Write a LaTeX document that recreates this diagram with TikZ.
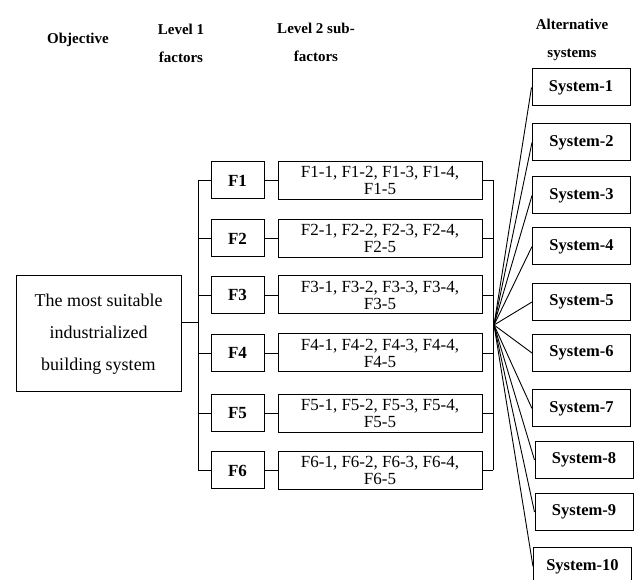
\documentclass[tikz,border=0pt]{standalone}
\usepackage{fontspec}
\setmainfont{Liberation Serif}
\begin{document}
\begin{tikzpicture}[x=1pt,y=-1pt]
        \tikzstyle{box}=[draw,line width=1pt,rectangle,inner sep=0pt,align=center]
        \tikzstyle{head}=[font=\fontsize{15}{28}\selectfont\bfseries,align=center]
        \tikzstyle{fbox}=[box,minimum width=53pt,minimum height=37pt,font=\fontsize{17}{17}\selectfont\bfseries]
        \tikzstyle{subbox}=[box,minimum width=204pt,minimum height=38pt,font=\fontsize{17}{17}\selectfont]
        \tikzstyle{sysbox}=[box,minimum width=98pt,minimum height=37pt,font=\fontsize{16.5}{17}\selectfont\bfseries]
        \tikzstyle{link}=[line width=0.9pt]
        \useasboundingbox (0,0) rectangle (641,580);
        % column titles
        \node[head] (hobj) at (78,40) {Objective};
        \node[head] (hlev1) at (181,43) {Level 1\\factors};
        \node[head] (hlev2) at (316,42) {Level 2 sub-\\factors};
        \node[head] (halt) at (572,40) {Alternative\\systems};
        % objective
        \node[box,minimum width=165pt,minimum height=116pt,font=\fontsize{18}{32}\selectfont] (obj) at (98.5,334)
            {The most suitable\\industrialized\\building system};
        \coordinate (trunk) at (198,322);
        \coordinate (rail) at (493,322);
        \coordinate (fan) at (494,325);
        % factors and sub-factors
        \foreach \i/\y in {1/180.5,2/238.5,3/295,4/353,5/413.5,6/470.5} {
            \node[fbox] (f\i) at (237.5,\y) {F\i};
            \node[subbox] (s\i) at (380,\y) {F\i-1, F\i-2, F\i-3, F\i-4,\\F\i-5};
            \draw[link] (f\i.west -| trunk) -- (f\i.west);
            \draw[link] (f\i) -- (s\i);
            \draw[link] (s\i.east) -- (s\i.east -| rail);
        }
        \draw[link] (trunk -| obj.east) -- (trunk);
        \draw[link] (f1.west -| trunk) -- (f6.west -| trunk);
        \draw[link] (s1.east -| rail) -- (s6.east -| rail);
        % alternative systems
        \foreach \i/\x/\y in {1/581/87.5,2/581.5/142.5,3/581.5/195.5,4/581.5/246.5,5/581.5/302,
                              6/581.5/353,7/581.5/408.5,8/584/460,9/584/512,10/582.5/566.5} {
            \node[sysbox] (sys\i) at (\x,\y) {System-\i};
            \draw[link] (fan) -- (sys\i.west);
        }
\end{tikzpicture}
\end{document}
